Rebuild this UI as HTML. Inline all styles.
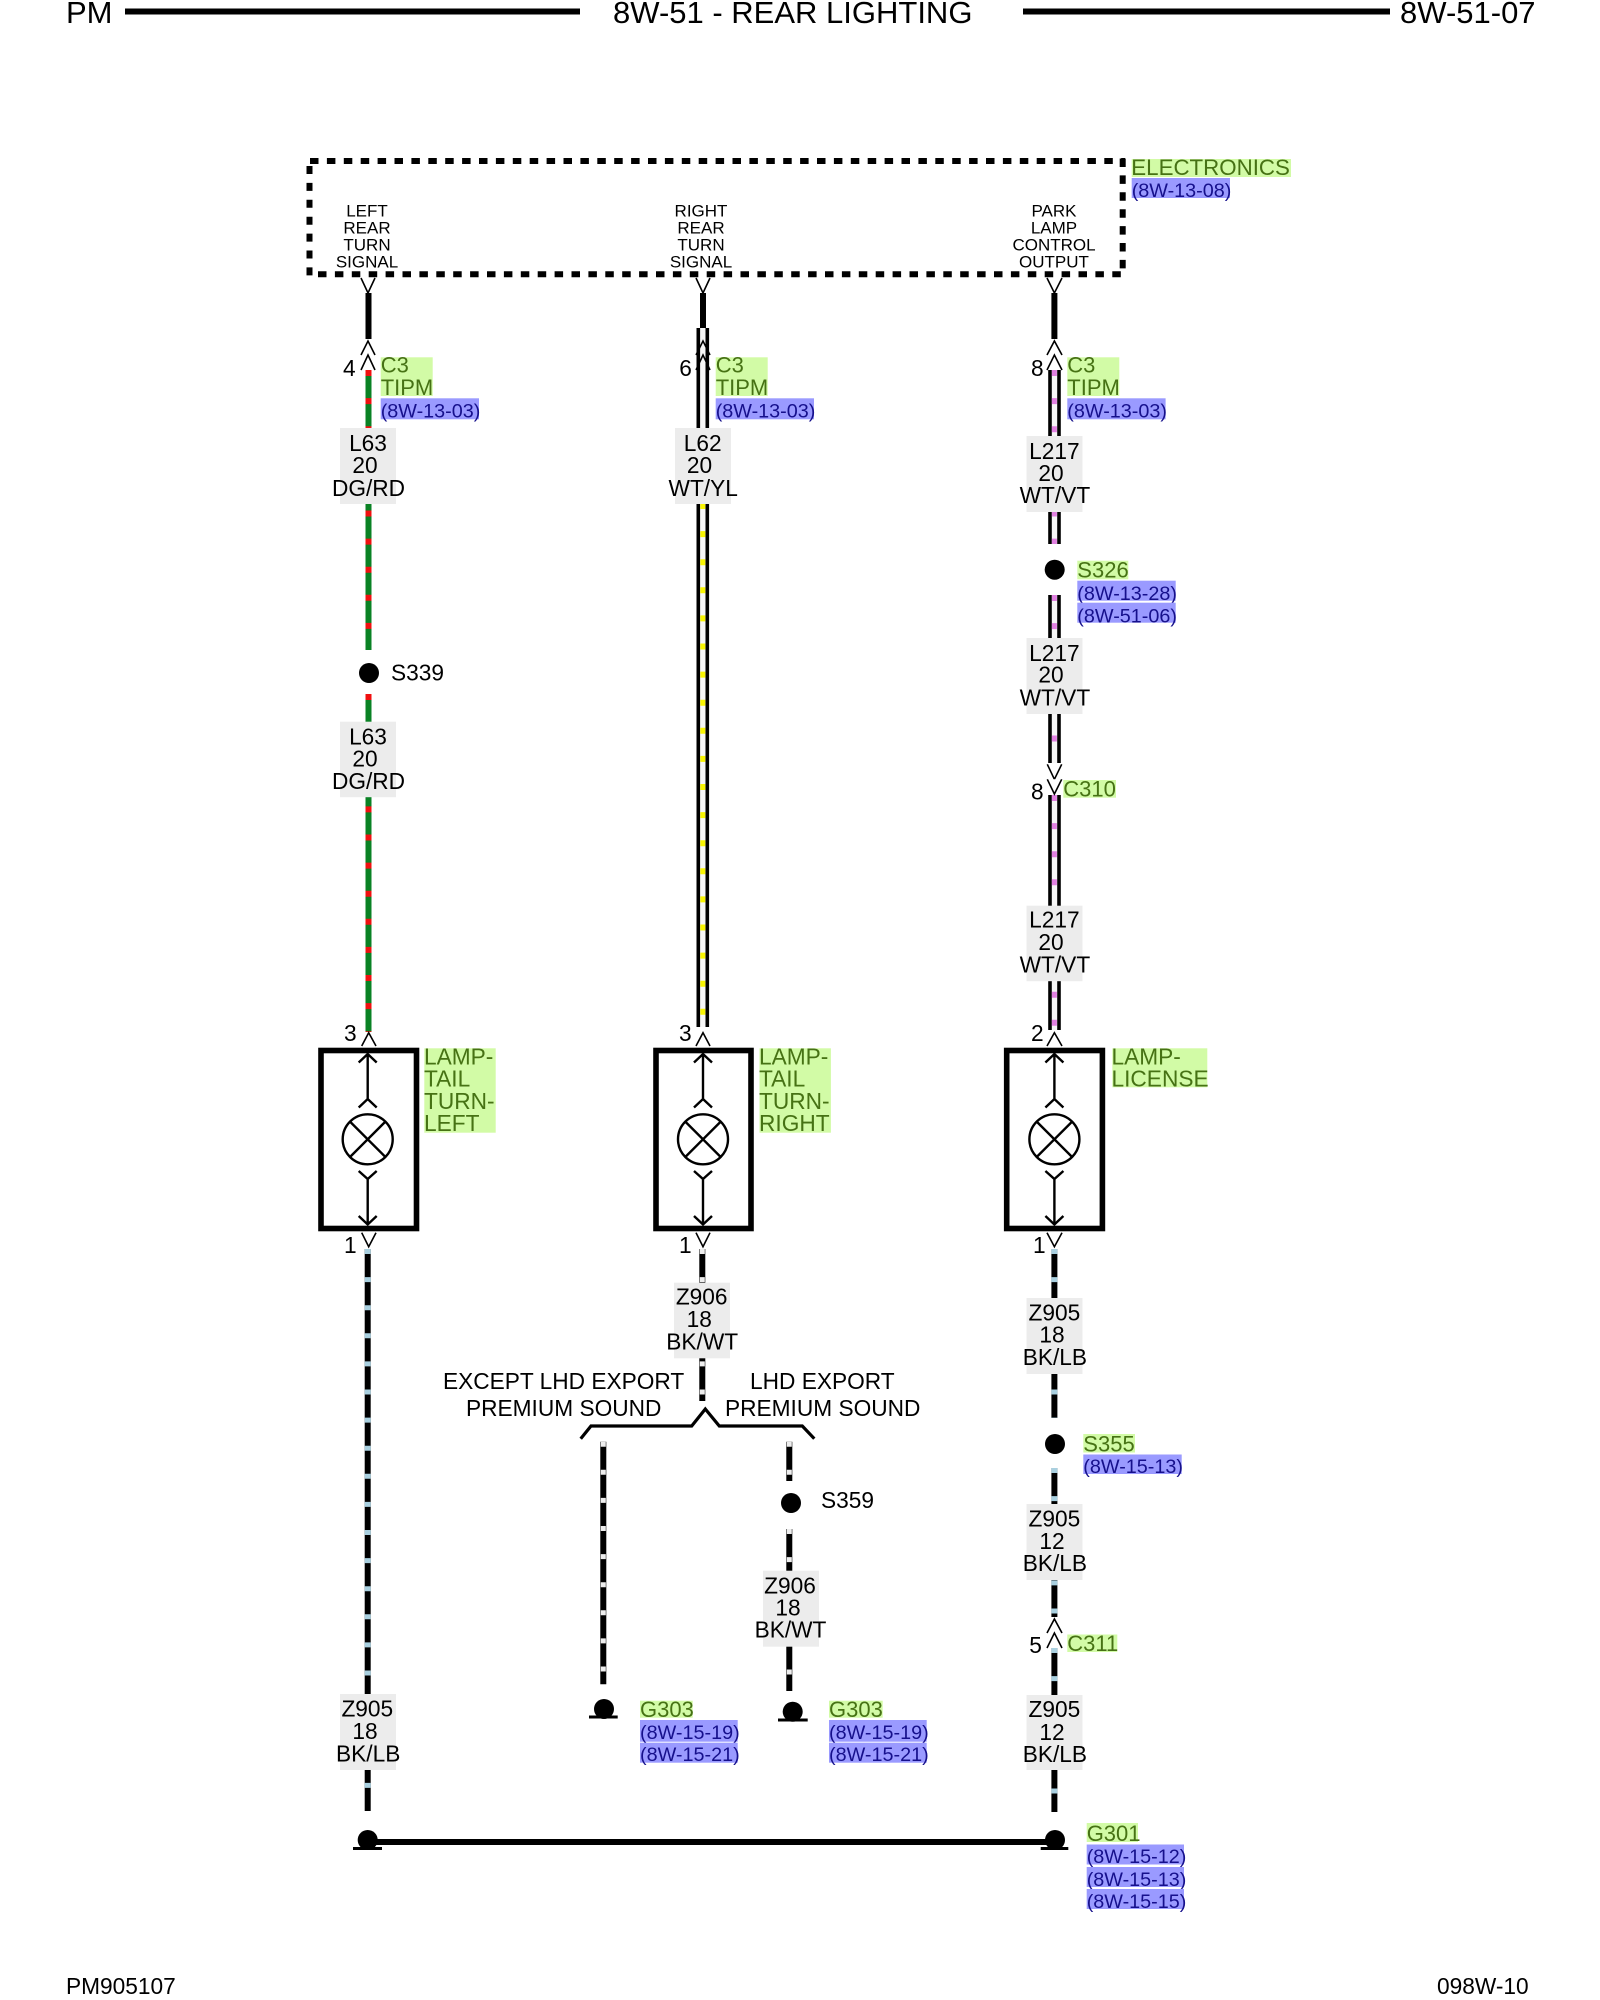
<!DOCTYPE html>
<html><head><meta charset="utf-8"><title>8W-51 - REAR LIGHTING</title>
<style>
html,body{margin:0;padding:0;background:#fff}
svg{display:block}
text{font-family:"Liberation Sans",Arial,sans-serif;font-size:22.7px;fill:#000}
.g{fill:#467214;font-size:22px}.gl{font-size:22.7px}.b{fill:#16108c;font-size:19.8px}
.gb{fill:#d2fba6}.bb{fill:#9a9aff}.lb{fill:#ececec}
.c{text-anchor:middle}
.h{font-size:31px}
.s{font-size:17px;text-anchor:middle}
.ch{fill:#fff;stroke:#000;stroke-width:1.6}
.cn{fill:none;stroke:#000;stroke-width:1.6}
.th{fill:none;stroke:#000;stroke-width:2.4}
.w{stroke:#000;stroke-width:6}
.lbm{stroke:#a9d0e0;stroke-width:6;stroke-dasharray:5 23.1}
.wm{stroke:#eeeeee;stroke-width:5;stroke-dasharray:5 23.1}
.gr{stroke:#0a8224;stroke-width:6}
.rd{stroke:#f01010;stroke-width:6;stroke-dasharray:6 22.1}
.e{stroke:#000;stroke-width:3.6}
.f{stroke:#f6f6f6;stroke-width:6}
.ye{stroke:#f8f400;stroke-width:5;stroke-dasharray:6 22.1}
.pk{stroke:#e080e0;stroke-width:5;stroke-dasharray:6 22.1}
.d{stroke:#000;stroke-width:6;fill:none}
</style></head>
<body>
<svg width="1600" height="2000" viewBox="0 0 1600 2000" xmlns="http://www.w3.org/2000/svg">
<rect width="1600" height="2000" fill="#fff"/>

<!-- header -->
<text class="h" x="66" y="23">PM</text>
<rect x="125" y="8.5" width="455" height="6"/>
<text class="h" x="613" y="23">8W-51 - REAR LIGHTING</text>
<rect x="1023" y="8.5" width="367" height="6"/>
<text class="h" x="1400" y="23">8W-51-07</text>

<!-- footer -->
<text x="66" y="1994">PM905107</text>
<text x="1437" y="1994">098W-10</text>

<!-- electronics box -->
<path class="d" d="M310 161H1125" stroke-dasharray="8.5 8.4"/>
<path class="d" d="M309.5 166V276" stroke-dasharray="8 8.9"/>
<path class="d" d="M318 274.3H1121" stroke-dasharray="8.5 8.4"/>
<path class="d" d="M1122.7 158.5V268.4" stroke-dasharray="8.5 8.4"/>
<text class="s" x="367" y="216.3">LEFT</text><text class="s" x="367" y="233.3">REAR</text><text class="s" x="367" y="250.3">TURN</text><text class="s" x="367" y="267.3">SIGNAL</text>
<text class="s" x="701" y="216.3">RIGHT</text><text class="s" x="701" y="233.3">REAR</text><text class="s" x="701" y="250.3">TURN</text><text class="s" x="701" y="267.3">SIGNAL</text>
<text class="s" x="1054" y="216.3">PARK</text><text class="s" x="1054" y="233.3">LAMP</text><text class="s" x="1054" y="250.3">CONTROL</text><text class="s" x="1054" y="267.3">OUTPUT</text>
<rect class="gb" x="1131.7" y="159" width="159.3" height="18"/>
<text class="g" x="1131.3" y="175" style="font-size:22.3px">ELECTRONICS</text>
<rect class="bb" x="1131.7" y="178" width="98.3" height="20"/>
<text class="b" x="1131.7" y="197">(8W-13-08)</text>

<!-- LEFT COLUMN -->
<line class="w" x1="368.5" y1="293" x2="368.5" y2="339"/>
<line class="gr" x1="368.5" y1="370" x2="368.5" y2="650"/>
<line class="rd" x1="368.5" y1="370" x2="368.5" y2="650"/>
<circle cx="369" cy="673" r="10"/>
<line class="gr" x1="368.5" y1="694" x2="368.5" y2="1032"/>
<line class="rd" x1="368.5" y1="694" x2="368.5" y2="1032"/>
<line class="w" x1="367.7" y1="1249" x2="367.7" y2="1811"/>
<line class="lbm" x1="367.7" y1="1249" x2="367.7" y2="1811"/>

<!-- CENTER COLUMN -->
<line class="w" x1="703" y1="293" x2="703" y2="328"/>
<line class="f" x1="703" y1="328" x2="703" y2="1027"/>
<line class="e" x1="698.3" y1="328" x2="698.3" y2="1027"/>
<line class="e" x1="707.3" y1="328" x2="707.3" y2="1027"/>
<line class="ye" x1="702.8" y1="503" x2="702.8" y2="1027"/>
<line class="w" x1="702.3" y1="1249" x2="702.3" y2="1401"/>
<line class="wm" x1="702.3" y1="1249" x2="702.3" y2="1401"/>
<polyline points="580.7,1438.7 591,1426 691.7,1426 705.3,1409 719.3,1426 802.3,1426 814.3,1438.7" fill="none" stroke="#000" stroke-width="3.2"/>
<line class="w" x1="603.3" y1="1441.7" x2="603.3" y2="1684.3"/>
<line class="wm" x1="603.3" y1="1441.7" x2="603.3" y2="1684.3"/>
<line class="w" x1="789.3" y1="1441.7" x2="789.3" y2="1481"/>
<line class="wm" x1="789.3" y1="1441.7" x2="789.3" y2="1481"/>
<circle cx="791" cy="1503" r="10"/>
<line class="w" x1="789.3" y1="1529" x2="789.3" y2="1691"/>
<line class="wm" x1="789.3" y1="1529" x2="789.3" y2="1691"/>

<!-- RIGHT COLUMN -->
<line class="w" x1="1054.4" y1="293" x2="1054.4" y2="339"/>
<g>
<line class="f" x1="1054.4" y1="370" x2="1054.4" y2="544"/>
<line class="e" x1="1050" y1="370" x2="1050" y2="544"/>
<line class="e" x1="1059" y1="370" x2="1059" y2="544"/>
<line class="pk" x1="1054.4" y1="370" x2="1054.4" y2="544"/>
</g>
<circle cx="1054.7" cy="569.7" r="10"/>
<g>
<line class="f" x1="1054.4" y1="595" x2="1054.4" y2="763"/>
<line class="e" x1="1050" y1="595" x2="1050" y2="763"/>
<line class="e" x1="1059" y1="595" x2="1059" y2="763"/>
<line class="pk" x1="1054.4" y1="595" x2="1054.4" y2="763"/>
</g>
<g>
<line class="f" x1="1054.4" y1="795" x2="1054.4" y2="1030"/>
<line class="e" x1="1050" y1="795" x2="1050" y2="1030"/>
<line class="e" x1="1059" y1="795" x2="1059" y2="1030"/>
<line class="pk" x1="1054.4" y1="795" x2="1054.4" y2="1030"/>
</g>
<line class="w" x1="1054.4" y1="1249" x2="1054.4" y2="1418"/>
<line class="lbm" x1="1054.4" y1="1249" x2="1054.4" y2="1418"/>
<circle cx="1055" cy="1444" r="10"/>
<line class="w" x1="1054.4" y1="1468" x2="1054.4" y2="1617"/>
<line class="lbm" x1="1054.4" y1="1468" x2="1054.4" y2="1617"/>
<line class="w" x1="1054.4" y1="1648" x2="1054.4" y2="1812"/>
<line class="lbm" x1="1054.4" y1="1648" x2="1054.4" y2="1812"/>

<!-- bus and grounds -->
<line class="w" x1="368" y1="1842" x2="1055" y2="1842"/>
<circle cx="367.7" cy="1840" r="10"/><rect x="353" y="1847" width="29" height="3"/>
<circle cx="1055" cy="1840" r="10"/><rect x="1040.7" y="1847" width="27.6" height="3"/>
<circle cx="604" cy="1709" r="10"/><rect x="589" y="1715.5" width="28.7" height="3"/>
<circle cx="792.7" cy="1711.7" r="10"/><rect x="778" y="1718.5" width="29.7" height="3"/>

<!-- connector chevrons top V -->
<polyline class="ch" points="361,278 368,293 375,278"/>
<polyline class="ch" points="696,278 703,293 710,278"/>
<polyline class="ch" points="1047,278 1054.4,293 1062,278"/>
<!-- double chevrons -->
<polyline class="ch" points="361,355 368,341 375,355"/><polyline class="ch" points="361,370 368,355 375,370"/>
<polyline class="cn" points="696,355 703,341 710,355"/><polyline class="cn" points="696,370 703,355 710,370"/>
<polyline class="ch" points="1047,355 1054.4,341 1062,355"/><polyline class="ch" points="1047,370 1054.4,355 1062,370"/>
<polyline class="ch" points="1047.3,764.3 1054.4,779.3 1061.7,764.3"/><polyline class="ch" points="1047.3,779.3 1054.4,794 1061.7,779.3"/>
<polyline class="ch" points="1047,1633 1054.4,1619 1062,1633"/><polyline class="ch" points="1047,1648 1054.4,1633 1062,1648"/>

<!-- bulbs -->
<g id="b1">
<rect x="321" y="1050.5" width="95.5" height="178" fill="#fff" stroke="#000" stroke-width="5.6"/>
<polyline class="ch" points="361.7,1046 368.7,1032.7 376,1046"/>
<polyline class="ch" points="361.7,1232.7 368.7,1246.7 376,1232.7"/>
<circle class="th" cx="367.7" cy="1139.3" r="25"/>
<path class="th" d="M350 1121.6L385.4 1157M385.4 1121.6L350 1157"/>
<path class="th" d="M367.7 1054V1099M358.7 1062.5L367.7 1054L376.7 1062.5M358.7 1107.5L367.7 1099L376.7 1107.5"/>
<path class="th" d="M367.7 1179V1224M358.7 1171L367.7 1179L376.7 1171M358.7 1216L367.7 1224.5L376.7 1216"/>
</g>
<g id="b2">
<rect x="656" y="1050.5" width="95" height="178" fill="#fff" stroke="#000" stroke-width="5.6"/>
<polyline class="ch" points="696,1046 703,1032.7 710,1046"/>
<polyline class="ch" points="696,1232.7 703,1246.7 710,1232.7"/>
<circle class="th" cx="703" cy="1139.3" r="25"/>
<path class="th" d="M685.3 1121.6L720.7 1157M720.7 1121.6L685.3 1157"/>
<path class="th" d="M703 1054V1099M694 1062.5L703 1054L712 1062.5M694 1107.5L703 1099L712 1107.5"/>
<path class="th" d="M703 1179V1224M694 1171L703 1179L712 1171M694 1216L703 1224.5L712 1216"/>
</g>
<g id="b3">
<rect x="1006.7" y="1050.5" width="95.7" height="178" fill="#fff" stroke="#000" stroke-width="5.6"/>
<polyline class="ch" points="1047,1046 1054.4,1032.7 1062,1046"/>
<polyline class="ch" points="1047,1232.7 1054.4,1246.7 1062,1232.7"/>
<circle class="th" cx="1054.4" cy="1139.3" r="25"/>
<path class="th" d="M1036.7 1121.6L1072.1 1157M1072.1 1121.6L1036.7 1157"/>
<path class="th" d="M1054.4 1054V1099M1045.4 1062.5L1054.4 1054L1063.4 1062.5M1045.4 1107.5L1054.4 1099L1063.4 1107.5"/>
<path class="th" d="M1054.4 1179V1224M1045.4 1171L1054.4 1179L1063.4 1171M1045.4 1216L1054.4 1224.5L1063.4 1216"/>
</g>

<!-- wire labels -->
<rect class="lb" x="340" y="428" width="56" height="76"/>
<text class="c" x="368" y="451">L63</text><text class="c" x="365" y="473">20</text><text class="c" x="368.5" y="496">DG/RD</text>
<rect class="lb" x="340" y="721.7" width="56" height="75.5"/>
<text class="c" x="368" y="744.3">L63</text><text class="c" x="365" y="766.7">20</text><text class="c" x="368.5" y="789">DG/RD</text>
<rect class="lb" x="340" y="1694" width="56" height="76"/>
<text class="c" x="367.3" y="1716.7">Z905</text><text class="c" x="365" y="1739">18</text><text class="c" x="368.2" y="1761.7">BK/LB</text>

<rect class="lb" x="675" y="428" width="56" height="76"/>
<text class="c" x="702.7" y="451">L62</text><text class="c" x="699.5" y="473">20</text><text class="c" x="703.2" y="496">WT/YL</text>
<rect class="lb" x="674" y="1282.7" width="56" height="75.6"/>
<text class="c" x="701.7" y="1304.3">Z906</text><text class="c" x="699.3" y="1327">18</text><text class="c" x="702.2" y="1349.3">BK/WT</text>
<rect class="lb" x="763" y="1570.7" width="56" height="76"/>
<text class="c" x="790" y="1593.3">Z906</text><text class="c" x="788" y="1615.5">18</text><text class="c" x="790.5" y="1637.7">BK/WT</text>

<rect class="lb" x="1026.5" y="436" width="56" height="76"/>
<text class="c" x="1054.4" y="459">L217</text><text class="c" x="1051" y="481">20</text><text class="c" x="1054.9" y="503">WT/VT</text>
<rect class="lb" x="1026.5" y="638" width="56" height="76"/>
<text class="c" x="1054.4" y="661">L217</text><text class="c" x="1051" y="682.7">20</text><text class="c" x="1054.9" y="705.3">WT/VT</text>
<rect class="lb" x="1026.5" y="905.7" width="56" height="75.5"/>
<text class="c" x="1054.4" y="927.7">L217</text><text class="c" x="1051" y="950">20</text><text class="c" x="1054.9" y="972.7">WT/VT</text>
<rect class="lb" x="1026.5" y="1298" width="56" height="76"/>
<text class="c" x="1054.4" y="1320.7">Z905</text><text class="c" x="1052" y="1342.7">18</text><text class="c" x="1054.9" y="1365">BK/LB</text>
<rect class="lb" x="1026.5" y="1504" width="56" height="76"/>
<text class="c" x="1054.4" y="1526.5">Z905</text><text class="c" x="1052" y="1549">12</text><text class="c" x="1054.9" y="1571">BK/LB</text>
<rect class="lb" x="1026.5" y="1695" width="56" height="75"/>
<text class="c" x="1054.4" y="1717">Z905</text><text class="c" x="1052" y="1740">12</text><text class="c" x="1054.9" y="1762">BK/LB</text>

<!-- plain labels -->
<text x="343" y="376">4</text>
<text x="679.3" y="376">6</text>
<text x="1031" y="376">8</text>
<text x="1031" y="799.3">8</text>
<text x="1029.3" y="1653">5</text>
<text x="344" y="1041">3</text>
<text x="679" y="1041">3</text>
<text x="1031" y="1041">2</text>
<text x="344" y="1253">1</text>
<text x="679" y="1253">1</text>
<text x="1033" y="1253">1</text>
<text x="391" y="680.7">S339</text>
<text x="821" y="1508">S359</text>
<text x="443" y="1389">EXCEPT LHD EXPORT</text>
<text x="466" y="1416">PREMIUM SOUND</text>
<text x="750" y="1389">LHD EXPORT</text>
<text x="725" y="1416">PREMIUM SOUND</text>

<!-- C3 TIPM -->
<rect class="gb" x="380.7" y="357.3" width="52" height="38.7"/><text class="g" x="380.7" y="372.7">C3</text><text class="g" x="380.7" y="395">TIPM</text>
<rect class="bb" x="380.7" y="398.3" width="98.3" height="21"/><text class="b" x="380.7" y="417.7">(8W-13-03)</text>
<rect class="gb" x="715.7" y="357.3" width="52" height="38.7"/><text class="g" x="715.7" y="372.7">C3</text><text class="g" x="715.7" y="395">TIPM</text>
<rect class="bb" x="715.7" y="398.3" width="98.3" height="21"/><text class="b" x="715.7" y="417.7">(8W-13-03)</text>
<rect class="gb" x="1067.3" y="357.3" width="52" height="38.7"/><text class="g" x="1067.3" y="372.7">C3</text><text class="g" x="1067.3" y="395">TIPM</text>
<rect class="bb" x="1067.3" y="398.3" width="98.3" height="21"/><text class="b" x="1067.3" y="417.7">(8W-13-03)</text>

<!-- S326 -->
<rect class="gb" x="1077.3" y="560.7" width="51" height="18.6"/><text class="g" x="1077.3" y="577.3">S326</text>
<rect class="bb" x="1077.3" y="580.7" width="98.4" height="20"/><text class="b" x="1077.3" y="600">(8W-13-28)</text>
<rect class="bb" x="1077.3" y="602.7" width="98.4" height="20"/><text class="b" x="1077.3" y="622.3">(8W-51-06)</text>

<!-- C310 -->
<rect class="gb" x="1063.3" y="780" width="52.7" height="17.7"/><text class="g" x="1063.3" y="796.7">C310</text>

<!-- lamps -->
<rect class="gb" x="424.3" y="1048.3" width="71.4" height="84.4"/>
<text class="g gl" x="424" y="1064.3">LAMP-</text><text class="g gl" x="424" y="1086.5">TAIL</text><text class="g gl" x="424" y="1108.8">TURN-</text><text class="g gl" x="424" y="1131">LEFT</text>
<rect class="gb" x="759.5" y="1048.3" width="71.4" height="84.4"/>
<text class="g gl" x="759" y="1064.3">LAMP-</text><text class="g gl" x="759" y="1086.5">TAIL</text><text class="g gl" x="759" y="1108.8">TURN-</text><text class="g gl" x="759" y="1131">RIGHT</text>
<rect class="gb" x="1112.3" y="1048.3" width="95" height="39"/>
<text class="g gl" x="1111.5" y="1064.3">LAMP-</text><text class="g gl" x="1111.5" y="1086.3">LICENSE</text>

<!-- S355 -->
<rect class="gb" x="1083.3" y="1434" width="51.7" height="18.5"/><text class="g" x="1083.3" y="1451.5">S355</text>
<rect class="bb" x="1083.3" y="1454.5" width="98.4" height="19.5"/><text class="b" x="1083.3" y="1473">(8W-15-13)</text>

<!-- C311 -->
<rect class="gb" x="1067.3" y="1634.5" width="50" height="17.5"/><text class="g" x="1067.3" y="1651">C311</text>

<!-- G303 -->
<rect class="gb" x="640" y="1700.7" width="52.7" height="17"/><text class="g" x="640" y="1717">G303</text>
<rect class="bb" x="640" y="1720" width="97.7" height="21.7"/><text class="b" x="640" y="1739">(8W-15-19)</text>
<rect class="bb" x="640" y="1742.7" width="97.7" height="20"/><text class="b" x="640" y="1761">(8W-15-21)</text>
<rect class="gb" x="829" y="1700.7" width="53.7" height="17"/><text class="g" x="829" y="1717">G303</text>
<rect class="bb" x="829" y="1720" width="97.7" height="21.7"/><text class="b" x="829" y="1739">(8W-15-19)</text>
<rect class="bb" x="829" y="1742.7" width="97.7" height="20"/><text class="b" x="829" y="1761">(8W-15-21)</text>

<!-- G301 -->
<rect class="gb" x="1086.7" y="1823" width="51.3" height="19"/><text class="g" x="1086.7" y="1841">G301</text>
<rect class="bb" x="1086.7" y="1844.5" width="97.3" height="20"/><text class="b" x="1086.7" y="1863">(8W-15-12)</text>
<rect class="bb" x="1086.7" y="1867" width="97.3" height="20"/><text class="b" x="1086.7" y="1886">(8W-15-13)</text>
<rect class="bb" x="1086.7" y="1889" width="97.3" height="20"/><text class="b" x="1086.7" y="1908">(8W-15-15)</text>
</svg>
</body></html>
